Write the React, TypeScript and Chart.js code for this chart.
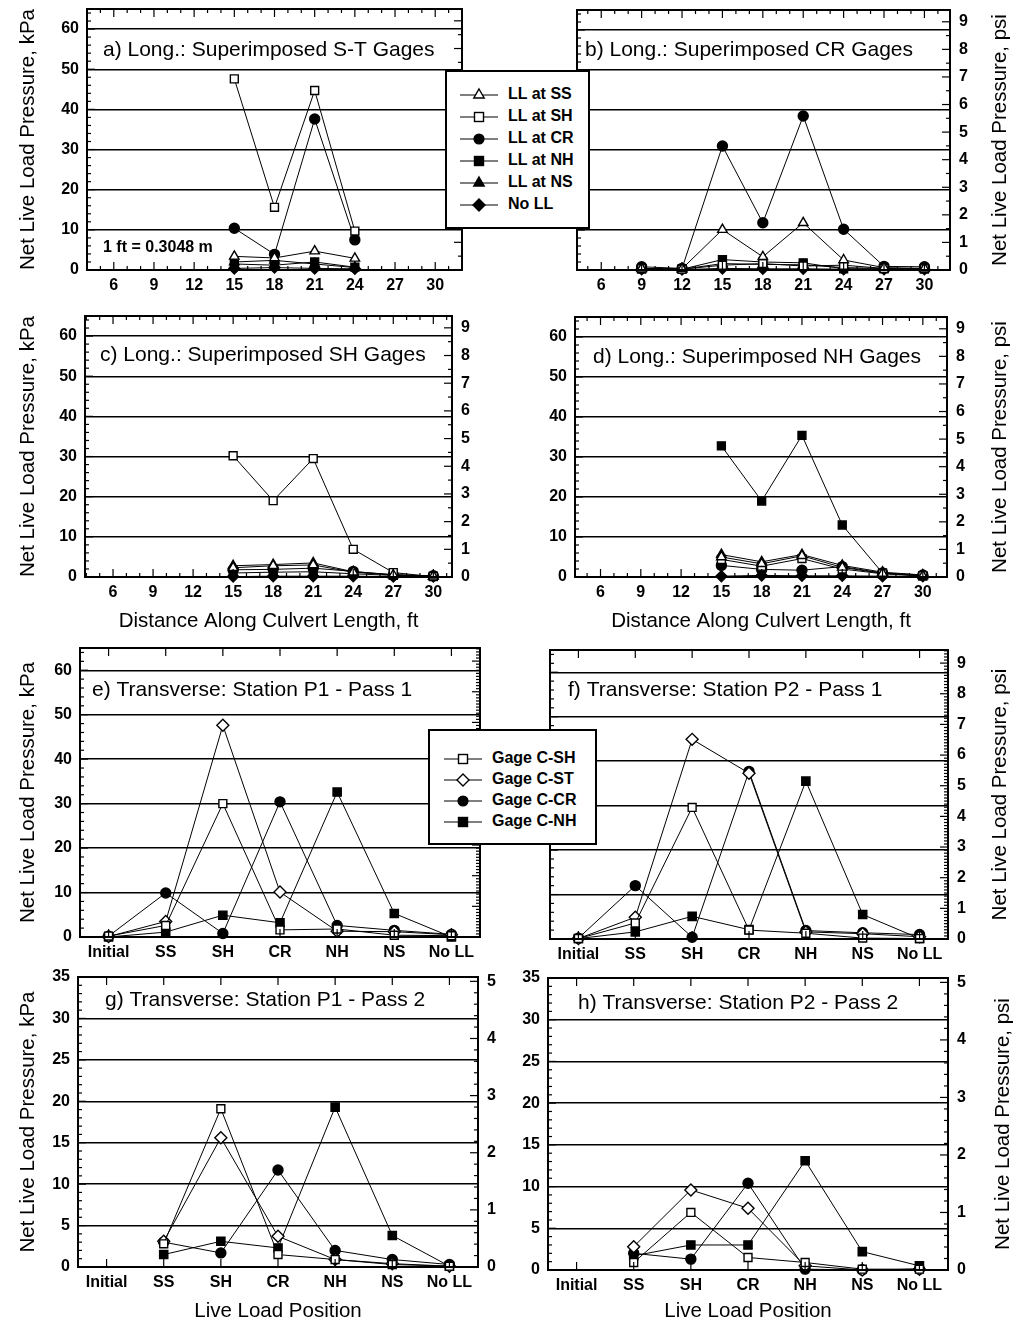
import React, { useEffect, useRef } from 'react';
import { Chart, registerables } from 'chart.js';

Chart.register(...registerables);

const FONT = '"Liberation Sans", Arial, Helvetica, sans-serif';
const KPA_PER_PSI = 6.894757;

// ---------------- DATA ----------------
const LL_LABELS = ['LL at SS', 'LL at SH', 'LL at CR', 'LL at NH', 'LL at NS', 'No LL'];
const GAGE_LABELS = ['Gage C-SH', 'Gage C-ST', 'Gage C-CR', 'Gage C-NH'];
const POSITIONS = ['Initial', 'SS', 'SH', 'CR', 'NH', 'NS', 'No LL'];
const X_TICKS_FT = [6, 9, 12, 15, 18, 21, 24, 27, 30];

// a) Long.: Superimposed S-T Gages
const A_X = [15, 18, 21, 24];
const A_SS = [3.4, 3.0, 4.7, 2.9];
const A_SH = [47.6, 15.6, 44.7, 9.7];
const A_CR = [10.4, 3.9, 37.6, 7.5];
const A_NH = [1.5, 1.2, 2.0, 0.7];
const A_NS = [2.0, 2.4, 1.5, 0.6];
const A_NO = [0.4, 0.6, 0.4, 0.3];

// b) Long.: Superimposed CR Gages
const B_X = [9, 12, 15, 18, 21, 24, 27, 30];
const B_SS = [0.4, 0.3, 10.1, 3.3, 11.8, 2.5, 0.6, 0.4];
const B_SH = [0.3, 0.2, 1.2, 1.6, 1.0, 1.2, 0.4, 0.3];
const B_CR = [0.8, 0.4, 31.0, 11.8, 38.5, 10.2, 0.9, 0.8];
const B_NH = [0.3, 0.2, 2.6, 2.0, 1.8, 0.3, 0.3, 0.3];
const B_NS = [0.3, 0.2, 1.6, 1.4, 1.3, 0.6, 0.4, 0.3];
const B_NO = [0.2, 0.1, 0.4, 0.3, 0.3, 0.2, 0.2, 0.2];

// c) Long.: Superimposed SH Gages
const C_X = [15, 18, 21, 24, 27, 30];
const C_SS = [2.3, 2.8, 3.0, 1.2, 0.5, 0.2];
const C_SH = [30.2, 19.0, 29.5, 6.9, 1.1, 0.1];
const C_CR = [1.8, 1.9, 2.2, 1.4, 0.5, 0.3];
const C_NH = [1.0, 1.2, 1.3, 0.8, 0.4, 0.2];
const C_NS = [2.8, 3.1, 3.5, 1.3, 0.6, 0.2];
const C_NO = [0.1, 0.2, 0.2, 0.2, 0.1, 0.1];

// d) Long.: Superimposed NH Gages
const D_X = [15, 18, 21, 24, 27, 30];
const D_SS = [5.0, 3.3, 5.3, 2.4, 0.9, 0.3];
const D_SH = [4.4, 2.7, 4.6, 2.0, 0.8, 0.3];
const D_CR = [2.9, 1.9, 1.7, 2.6, 1.0, 0.5];
const D_NH = [32.8, 19.0, 35.4, 13.0, 1.0, 0.3];
const D_NS = [5.6, 3.8, 5.6, 2.9, 1.2, 0.5];
const D_NO = [0.2, 0.4, 0.3, 0.3, 0.2, 0.2];

// e) Transverse: Station P1 - Pass 1
const E_SH = [0.2, 2.6, 30.0, 1.6, 1.8, 0.4, 0.3];
const E_ST = [0.1, 3.5, 47.6, 10.1, 1.3, 1.2, 0.5];
const E_CR = [0.2, 9.9, 0.8, 30.4, 2.6, 1.5, 0.6];
const E_NH = [0.0, 1.1, 4.9, 3.2, 32.6, 5.3, 0.0];

// f) Transverse: Station P2 - Pass 1
const F_SH = [0.1, 3.6, 29.6, 2.0, 1.3, 0.2, 0.1];
const F_ST = [0.1, 4.9, 44.9, 37.3, 1.6, 1.2, 0.5];
const F_CR = [0.2, 12.0, 0.4, 37.7, 1.9, 1.4, 1.0];
const F_NH = [0.1, 1.6, 5.1, 2.1, 35.5, 5.5, 0.1];

// g) Transverse: Station P1 - Pass 2
const G_SH = [null, 2.8, 19.1, 1.5, 0.9, 0.3, 0.1];
const G_ST = [null, 3.1, 15.6, 3.7, 0.9, 0.4, 0.1];
const G_CR = [null, 3.0, 1.7, 11.7, 2.0, 0.9, 0.3];
const G_NH = [null, 1.5, 3.1, 2.3, 19.3, 3.8, 0.1];

// h) Transverse: Station P2 - Pass 2
const H_SH = [null, 0.9, 6.9, 1.5, 0.9, 0.1, 0.1];
const H_ST = [null, 2.8, 9.6, 7.4, 0.5, 0.0, 0.1];
const H_CR = [null, 2.0, 1.3, 10.4, 0.1, 0.0, 0.1];
const H_NH = [null, 1.7, 3.0, 3.0, 13.1, 2.2, 0.5];

// ---------------- STYLES ----------------
type Mk = { shape: 'triangle' | 'rect' | 'circle' | 'rectRot'; filled: boolean; r: number };
const LL_MARKERS: Mk[] = [
  { shape: 'triangle', filled: false, r: 5.5 },
  { shape: 'rect', filled: false, r: 5.6 },
  { shape: 'circle', filled: true, r: 5 },
  { shape: 'rect', filled: true, r: 5.6 },
  { shape: 'triangle', filled: true, r: 5.5 },
  { shape: 'rectRot', filled: true, r: 5.5 },
];
const GAGE_MARKERS: Mk[] = [
  { shape: 'rect', filled: false, r: 5.6 },
  { shape: 'rectRot', filled: false, r: 6 },
  { shape: 'circle', filled: true, r: 5 },
  { shape: 'rect', filled: true, r: 5.8 },
];

const steps = (start: number, end: number, step: number) => {
  const out: number[] = [];
  for (let i = 0; start + i * step <= end + 1e-9; i++) out.push(Math.round((start + i * step) * 1000) / 1000);
  return out;
};
const minorOf = (all: number[], major: number[]) => all.filter((v) => !major.some((m) => Math.abs(m - v) < 1e-6));

type Rect = { x: number; y: number; w: number; h: number };
type Plot = { l: number; t: number; r: number; b: number };
type PanelCfg = {
  canvas: Rect;
  plot: Plot;
  category: boolean;
  xMin?: number;
  xMax?: number;
  xs?: number[];
  series: (number | null)[][];
  labels: string[];
  markers: Mk[];
  yMax: number;
  yMajor: number[];
  yMinor: number[];
  psiMajor: number[];
  psiMinor: number[];
  leftLabels: boolean;
  leftTitle: boolean;
  rightLabels: boolean;
  rightTitleX?: number;
  xTitle?: string;
  xTitlePad?: number;
  title: string;
  titleDx: number;
  titleDy: number;
  note?: string;
};

const KPA_MAJOR_65 = steps(0, 60, 10);
const KPA_MINOR_65 = minorOf(steps(0, 64, 2), KPA_MAJOR_65);
const KPA_MAJOR_35 = steps(0, 35, 5);
const KPA_MINOR_35 = minorOf(steps(0, 35, 1), KPA_MAJOR_35);
const PSI_MAJOR_9 = steps(0, 9, 1);
const PSI_MINOR_HALF = minorOf(steps(0, 9.4, 0.5), PSI_MAJOR_9);
const PSI_MINOR_TENTH = minorOf(steps(0, 9.4, 0.1), PSI_MAJOR_9);
const PSI_MAJOR_5 = steps(0, 5, 1);
const PSI_MINOR_5 = minorOf(steps(0, 5, 0.2), PSI_MAJOR_5);

const PANELS: PanelCfg[] = [
  {
    canvas: { x: 0, y: 0, w: 508, h: 300 }, plot: { l: 87, t: 9, r: 462, b: 270 },
    category: false, xMin: 4, xMax: 32, xs: A_X,
    series: [A_SS, A_SH, A_CR, A_NH, A_NS, A_NO], labels: LL_LABELS, markers: LL_MARKERS,
    yMax: 65, yMajor: KPA_MAJOR_65, yMinor: KPA_MINOR_65, psiMajor: PSI_MAJOR_9, psiMinor: PSI_MINOR_HALF,
    leftLabels: true, leftTitle: true, rightLabels: false,
    title: 'a) Long.: Superimposed S-T Gages', titleDx: 16, titleDy: 41, note: '1 ft = 0.3048 m',
  },
  {
    canvas: { x: 508, y: 0, w: 508, h: 300 }, plot: { l: 577, t: 10, r: 950, b: 270 },
    category: false, xMin: 4.2, xMax: 31.9, xs: B_X,
    series: [B_SS, B_SH, B_CR, B_NH, B_NS, B_NO], labels: LL_LABELS, markers: LL_MARKERS,
    yMax: 65, yMajor: KPA_MAJOR_65, yMinor: KPA_MINOR_65, psiMajor: PSI_MAJOR_9, psiMinor: PSI_MINOR_HALF,
    leftLabels: false, leftTitle: false, rightLabels: true, rightTitleX: 1000,
    title: 'b) Long.: Superimposed CR Gages', titleDx: 8, titleDy: 40,
  },
  {
    canvas: { x: 0, y: 300, w: 508, h: 340 }, plot: { l: 85, t: 316, r: 452, b: 577 },
    category: false, xMin: 3.9, xMax: 31.4, xs: C_X,
    series: [C_SS, C_SH, C_CR, C_NH, C_NS, C_NO], labels: LL_LABELS, markers: LL_MARKERS,
    yMax: 65, yMajor: KPA_MAJOR_65, yMinor: KPA_MINOR_65, psiMajor: PSI_MAJOR_9, psiMinor: PSI_MINOR_HALF,
    leftLabels: true, leftTitle: true, rightLabels: true,
    xTitle: 'Distance Along Culvert Length, ft', xTitlePad: 6,
    title: 'c) Long.: Superimposed SH Gages', titleDx: 15, titleDy: 39,
  },
  {
    canvas: { x: 508, y: 300, w: 508, h: 340 }, plot: { l: 575, t: 317, r: 947, b: 577 },
    category: false, xMin: 4.1, xMax: 31.8, xs: D_X,
    series: [D_SS, D_SH, D_CR, D_NH, D_NS, D_NO], labels: LL_LABELS, markers: LL_MARKERS,
    yMax: 65, yMajor: KPA_MAJOR_65, yMinor: KPA_MINOR_65, psiMajor: PSI_MAJOR_9, psiMinor: PSI_MINOR_HALF,
    leftLabels: true, leftTitle: false, rightLabels: true, rightTitleX: 1000,
    xTitle: 'Distance Along Culvert Length, ft', xTitlePad: 6,
    title: 'd) Long.: Superimposed NH Gages', titleDx: 18, titleDy: 40,
  },
  {
    canvas: { x: 0, y: 640, w: 508, h: 325 }, plot: { l: 80, t: 648, r: 480, b: 937 },
    category: true,
    series: [E_SH, E_ST, E_CR, E_NH], labels: GAGE_LABELS, markers: GAGE_MARKERS,
    yMax: 65, yMajor: KPA_MAJOR_65, yMinor: KPA_MINOR_65, psiMajor: PSI_MAJOR_9, psiMinor: PSI_MINOR_TENTH,
    leftLabels: true, leftTitle: true, rightLabels: false,
    title: 'e) Transverse: Station P1 - Pass 1', titleDx: 12, titleDy: 42,
  },
  {
    canvas: { x: 508, y: 640, w: 508, h: 325 }, plot: { l: 550, t: 650, r: 948, b: 939 },
    category: true,
    series: [F_SH, F_ST, F_CR, F_NH], labels: GAGE_LABELS, markers: GAGE_MARKERS,
    yMax: 65, yMajor: KPA_MAJOR_65, yMinor: KPA_MINOR_65, psiMajor: PSI_MAJOR_9, psiMinor: PSI_MINOR_TENTH,
    leftLabels: false, leftTitle: false, rightLabels: true, rightTitleX: 1000,
    title: 'f) Transverse: Station P2 - Pass 1', titleDx: 18, titleDy: 40,
  },
  {
    canvas: { x: 0, y: 965, w: 508, h: 361 }, plot: { l: 78, t: 977, r: 478, b: 1267 },
    category: true,
    series: [G_SH, G_ST, G_CR, G_NH], labels: GAGE_LABELS, markers: GAGE_MARKERS,
    yMax: 35, yMajor: KPA_MAJOR_35, yMinor: KPA_MINOR_35, psiMajor: PSI_MAJOR_5, psiMinor: PSI_MINOR_5,
    leftLabels: true, leftTitle: true, rightLabels: true,
    xTitle: 'Live Load Position', xTitlePad: 2,
    title: 'g) Transverse: Station P1 - Pass 2', titleDx: 27, titleDy: 23,
  },
  {
    canvas: { x: 508, y: 965, w: 508, h: 361 }, plot: { l: 548, t: 978, r: 948, b: 1270 },
    category: true,
    series: [H_SH, H_ST, H_CR, H_NH], labels: GAGE_LABELS, markers: GAGE_MARKERS,
    yMax: 35, yMajor: KPA_MAJOR_35, yMinor: KPA_MINOR_35, psiMajor: PSI_MAJOR_5, psiMinor: PSI_MINOR_5,
    leftLabels: true, leftTitle: false, rightLabels: true, rightTitleX: 1003,
    xTitle: 'Live Load Position', xTitlePad: 2,
    title: 'h) Transverse: Station P2 - Pass 2', titleDx: 30, titleDy: 25,
  },
];

function makeFramePlugin(cfg: PanelCfg) {
  return {
    id: 'frame',
    afterDraw(chart: any) {
      const { ctx, chartArea } = chart;
      const { left, right, top, bottom } = chartArea;
      const xs = chart.scales.x;
      const ys = chart.scales.y;
      const ps = chart.scales.y1;
      ctx.save();
      ctx.strokeStyle = '#000';
      ctx.lineWidth = 1.2;
      const seg = (x1: number, y1: number, x2: number, y2: number) => {
        ctx.beginPath();
        ctx.moveTo(x1, y1);
        ctx.lineTo(x2, y2);
        ctx.stroke();
      };
      cfg.yMajor.forEach((v) => { const p = ys.getPixelForValue(v); seg(left, p, left + 8, p); });
      cfg.yMinor.forEach((v) => { const p = ys.getPixelForValue(v); seg(left, p, left + 4, p); });
      cfg.psiMajor.forEach((v) => { const p = ps.getPixelForValue(v); seg(right - 8, p, right, p); });
      cfg.psiMinor.forEach((v) => { const p = ps.getPixelForValue(v); seg(right - 4, p, right, p); });
      let xMajor: number[];
      let xMinor: number[] = [];
      if (cfg.category) {
        xMajor = POSITIONS.map((_, i) => i);
      } else {
        xMajor = X_TICKS_FT;
        xMinor = minorOf(steps(Math.ceil(cfg.xMin!), Math.floor(cfg.xMax!), 1), X_TICKS_FT);
      }
      xMajor.forEach((v) => { const p = xs.getPixelForValue(v); seg(p, bottom, p, bottom - 8); seg(p, top, p, top + 8); });
      xMinor.forEach((v) => { const p = xs.getPixelForValue(v); seg(p, bottom, p, bottom - 4); seg(p, top, p, top + 4); });
      ctx.lineWidth = 2;
      ctx.strokeRect(left, top, right - left, bottom - top);
      ctx.fillStyle = '#000';
      ctx.textAlign = 'left';
      ctx.textBaseline = 'middle';
      ctx.font = `21px ${FONT}`;
      ctx.fillText(cfg.title, left + cfg.titleDx, top + cfg.titleDy);
      if (cfg.note) {
        ctx.font = `bold 16px ${FONT}`;
        ctx.fillText(cfg.note, left + 16, top + 239);
      }
      if (cfg.rightTitleX !== undefined) {
        ctx.translate(cfg.rightTitleX - cfg.canvas.x, (top + bottom) / 2);
        ctx.rotate(-Math.PI / 2);
        ctx.textAlign = 'center';
        ctx.font = `20.5px ${FONT}`;
        ctx.fillText('Net Live Load Pressure, psi', 0, 0);
      }
      ctx.restore();
    },
  };
}

function buildConfig(cfg: PanelCfg): any {
  const { canvas, plot } = cfg;
  const tickFont = { family: FONT, size: 16, weight: 'bold' };
  const titleFont = { family: FONT, size: 20.5, weight: 'normal' };
  const leftW = plot.l - canvas.x;
  const rightW = canvas.x + canvas.w - plot.r;
  const bottomH = canvas.y + canvas.h - plot.b;
  const topPad = plot.t - canvas.y;
  const zeroPad = (s: any) => { s.paddingLeft = 0; s.paddingRight = 0; s.paddingTop = 0; s.paddingBottom = 0; };

  const datasets = cfg.series.map((ys, i) => {
    const mk = cfg.markers[i];
    return {
      label: cfg.labels[i],
      data: cfg.category ? ys : cfg.xs!.map((x, j) => ({ x, y: ys[j] })),
      borderColor: '#000',
      borderWidth: 1,
      tension: 0,
      pointStyle: mk.shape,
      pointRadius: mk.r,
      pointBackgroundColor: mk.filled ? '#000' : '#fff',
      pointBorderColor: '#000',
      pointBorderWidth: 1.4,
      clip: false,
      fill: false,
    };
  });

  const xScale: any = cfg.category
    ? { type: 'category', labels: POSITIONS, offset: true }
    : {
        type: 'linear', min: cfg.xMin, max: cfg.xMax,
        afterBuildTicks: (s: any) => { s.ticks = X_TICKS_FT.map((v) => ({ value: v })); },
      };
  Object.assign(xScale, {
    position: 'bottom',
    grid: { display: false, drawTicks: false },
    border: { display: false },
    ticks: { display: true, font: tickFont, color: '#000', padding: 6, autoSkip: false, maxRotation: 0, minRotation: 0,
      ...(cfg.category ? {} : { callback: (v: number) => String(v) }) },
    title: cfg.xTitle
      ? { display: true, text: cfg.xTitle, font: titleFont, color: '#000', padding: { top: 0, bottom: cfg.xTitlePad } }
      : { display: false },
    afterFit: (s: any) => { s.height = bottomH; zeroPad(s); },
  });

  return {
    type: 'line',
    data: { datasets, ...(cfg.category ? { labels: POSITIONS } : {}) },
    plugins: [makeFramePlugin(cfg)],
    options: {
      responsive: false,
      animation: false,
      devicePixelRatio: 1,
      layout: { padding: { top: topPad, left: 0, right: 0, bottom: 0 }, autoPadding: false },
      plugins: { legend: { display: false }, tooltip: { enabled: false } },
      scales: {
        x: xScale,
        y: {
          type: 'linear', position: 'left', min: 0, max: cfg.yMax,
          afterBuildTicks: (s: any) => { s.ticks = cfg.yMajor.map((v) => ({ value: v })); },
          grid: { display: true, color: '#000', lineWidth: 1.4, drawTicks: false },
          border: { display: false },
          ticks: { display: cfg.leftLabels, font: tickFont, color: '#000', padding: 8, callback: (v: number) => String(v) },
          title: { display: cfg.leftTitle, text: 'Net Live Load Pressure, kPa', font: titleFont, color: '#000', padding: { top: 16, bottom: 0 } },
          afterFit: (s: any) => { s.width = leftW; zeroPad(s); },
        },
        y1: {
          type: 'linear', position: 'right', min: 0, max: cfg.yMax / KPA_PER_PSI,
          afterBuildTicks: (s: any) => { s.ticks = cfg.psiMajor.map((v) => ({ value: v })); },
          grid: { display: false, drawTicks: false },
          border: { display: false },
          ticks: { display: cfg.rightLabels, font: tickFont, color: '#000', padding: 9, callback: (v: number) => String(v) },
          title: { display: false },
          afterFit: (s: any) => { s.width = rightW; zeroPad(s); },
        },
      },
    },
  };
}

function Panel({ cfg }: { cfg: PanelCfg }) {
  const ref = useRef<HTMLCanvasElement>(null);
  useEffect(() => {
    if (!ref.current) return;
    const chart = new Chart(ref.current, buildConfig(cfg));
    return () => chart.destroy();
  }, [cfg]);
  return (
    <canvas
      ref={ref}
      width={cfg.canvas.w}
      height={cfg.canvas.h}
      style={{ position: 'absolute', left: cfg.canvas.x, top: cfg.canvas.y, width: cfg.canvas.w, height: cfg.canvas.h }}
    />
  );
}

function MarkerSvg({ mk }: { mk: Mk }) {
  const W = 38, H = 16, cx = 19, cy = 8;
  const fill = mk.filled ? '#000' : '#fff';
  let shape: any = null;
  if (mk.shape === 'triangle') {
    const r = 6;
    shape = <polygon points={`${cx},${cy - r} ${cx + r * 0.866},${cy + r * 0.5} ${cx - r * 0.866},${cy + r * 0.5}`} fill={fill} stroke="#000" strokeWidth={1.4} />;
  } else if (mk.shape === 'rect') {
    const s = 4.5;
    shape = <rect x={cx - s} y={cy - s} width={2 * s} height={2 * s} fill={fill} stroke="#000" strokeWidth={1.4} />;
  } else if (mk.shape === 'circle') {
    shape = <circle cx={cx} cy={cy} r={5} fill={fill} stroke="#000" strokeWidth={1.2} />;
  } else {
    const r = 6;
    shape = <polygon points={`${cx},${cy - r} ${cx + r},${cy} ${cx},${cy + r} ${cx - r},${cy}`} fill={fill} stroke="#000" strokeWidth={1.4} />;
  }
  return (
    <svg width={W} height={H} style={{ display: 'block' }}>
      <line x1={0} y1={cy} x2={W} y2={cy} stroke="#000" strokeWidth={1.2} />
      {shape}
    </svg>
  );
}

type LegendBox = { left: number; top: number; width: number; height: number; rows: number[]; lineX: number; textX: number };
const LEGEND_LL: LegendBox = { left: 445, top: 70, width: 145, height: 159, rows: [95, 117, 139, 161, 183, 205], lineX: 460, textX: 508 };
const LEGEND_GAGE: LegendBox = { left: 428, top: 729, width: 169, height: 116, rows: [759, 780, 801, 822], lineX: 444, textX: 492 };

function Legend({ box, labels, markers }: { box: LegendBox; labels: string[]; markers: Mk[] }) {
  return (
    <div
      style={{
        position: 'absolute', left: box.left, top: box.top, width: box.width, height: box.height,
        boxSizing: 'border-box', border: '2px solid #000', background: '#fff', zIndex: 10,
      }}
    >
      {labels.map((lab, i) => (
        <React.Fragment key={lab}>
          <div style={{ position: 'absolute', left: box.lineX - box.left - 2, top: box.rows[i] - box.top - 2 - 8 }}>
            <MarkerSvg mk={markers[i]} />
          </div>
          <div
            style={{
              position: 'absolute', left: box.textX - box.left - 2, top: box.rows[i] - box.top - 2 - 10,
              height: 20, lineHeight: '20px', font: `bold 16px ${FONT}`, color: '#000', whiteSpace: 'nowrap',
            }}
          >
            {lab}
          </div>
        </React.Fragment>
      ))}
    </div>
  );
}

export default function App() {
  return (
    <div style={{ position: 'absolute', left: 0, top: 0, width: 1016, height: 1326, background: '#fff', overflow: 'hidden' }}>
      {PANELS.map((p, i) => (
        <Panel key={i} cfg={p} />
      ))}
      <Legend box={LEGEND_LL} labels={LL_LABELS} markers={LL_MARKERS} />
      <Legend box={LEGEND_GAGE} labels={GAGE_LABELS} markers={GAGE_MARKERS} />
    </div>
  );
}
